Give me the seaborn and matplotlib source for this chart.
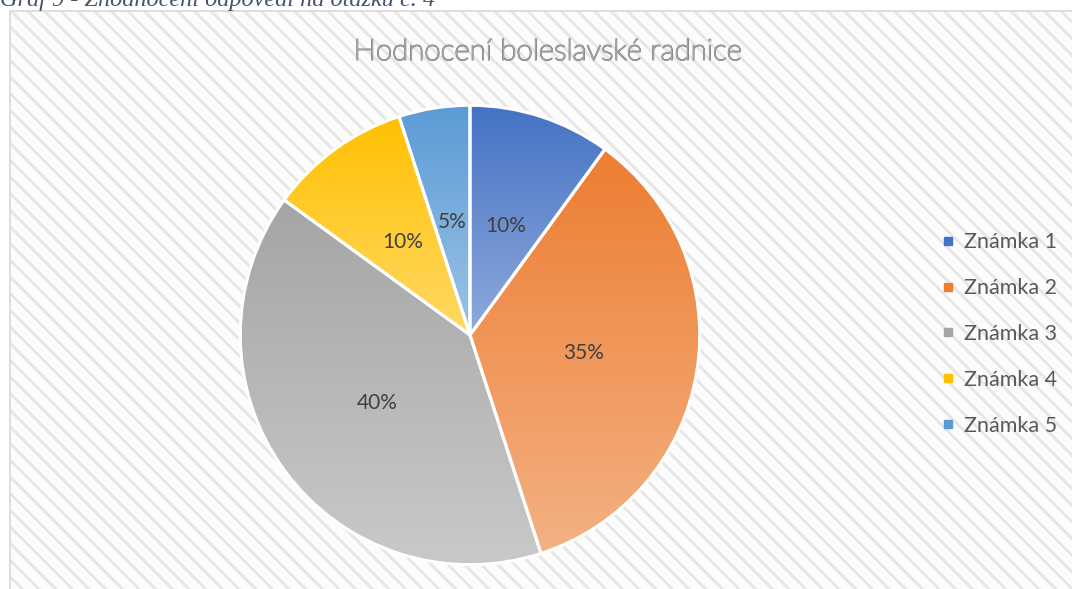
"""Hodnocení boleslavské radnice - pie chart"""
import matplotlib

matplotlib.use("Agg")

import matplotlib.patheffects as pe
import numpy as np
import seaborn as sns
from matplotlib import pyplot as plt
from matplotlib.colors import to_rgb
from matplotlib.lines import Line2D
from matplotlib.patches import Rectangle

# data
grades = ["Známka 1", "Známka 2", "Známka 3", "Známka 4", "Známka 5"]
shares = [10, 35, 40, 10, 5]
top_colors = ["#4472C4", "#ED7D31", "#A5A5A5", "#FFC000", "#5B9BD5"]
bottom_colors = ["#8FAADC", "#F4B183", "#C9C9C9", "#FFD966", "#9DC3E6"]

title = "Hodnocení boleslavské radnice"
caption = "Graf 9 - Zhodnocení odpovědí na otázku č. 4"

W, H = 1072, 589

sns.set_theme(style="white")
plt.rcParams["font.family"] = ["Lato", "DejaVu Sans"]
plt.rcParams["hatch.linewidth"] = 2.0

fig = plt.figure(figsize=(W / 100, H / 100), dpi=100)
fig.patch.set_facecolor("white")

# hatched chart area background
left, top = 10 / W, 1 - 11 / H
fig.patches.append(
    Rectangle((left, 0), 1 - left, top, transform=fig.transFigure,
              facecolor="#FCFCFC", edgecolor="#E6E6E6", hatch="\\\\",
              linewidth=0, zorder=-2)
)
fig.patches.append(
    Rectangle((left, -0.01), 1.01 - left, top + 0.01, transform=fig.transFigure,
              facecolor="none", edgecolor="#D9D9D9", linewidth=1.2, zorder=-1)
)

# caption, clipped at the top edge
fig.text(0.0, 1 - 6 / H, caption, ha="left", va="baseline", fontsize=17.5,
         style="italic", family=["Liberation Serif"], color="#44546A")

# title with outline effect
fig.text(548 / W, 1 - 52 / H, title, ha="center", va="center", fontsize=21.3,
         fontweight="light", color="#CFCFCF",
         path_effects=[pe.withStroke(linewidth=1.1, foreground="#8C8C8C")])

# pie axes
r = 232
cx, cy = 470, 335
ax = fig.add_axes([(cx - r) / W, (H - cy - r) / H, 2 * r / W, 2 * r / H])
ax.set_facecolor("none")
ax.axis("off")

wedges, texts, autotexts = ax.pie(
    shares, startangle=90, counterclock=False, radius=1,
    autopct="%1.0f%%", pctdistance=0.5,
    wedgeprops=dict(facecolor="none", edgecolor="white", linewidth=2.2),
    textprops=dict(color="#404040", fontsize=15),
)

# vertical gradient fill per slice
for w, c_top, c_bot in zip(wedges, top_colors, bottom_colors):
    bb = w.get_path().get_extents()
    t = np.linspace(0, 1, 256)[:, None]
    grad = (1 - t) * np.array(to_rgb(c_top)) + t * np.array(to_rgb(c_bot))
    img = ax.imshow(grad[:, None, :], extent=[bb.x0, bb.x1, bb.y0, bb.y1],
                    origin="upper", aspect="auto", zorder=0.5)
    img.set_clip_path(w)
    w.set_zorder(2)
for txt in autotexts:
    txt.set_zorder(3)

ax.set_xlim(-1.01, 1.01)
ax.set_ylim(-1.01, 1.01)

# legend
handles = [Line2D([], [], linestyle="none", marker="s", markersize=6,
                  markerfacecolor=c, markeredgecolor=c) for c in top_colors]
fig.legend(handles, grades, loc="center left",
           bbox_to_anchor=(922 / W, 1 - 334 / H), frameon=False,
           fontsize=15.5, labelcolor="#595959", handlelength=0.6,
           handletextpad=0.45, labelspacing=1.2)

fig.savefig("out.png", dpi=100)
